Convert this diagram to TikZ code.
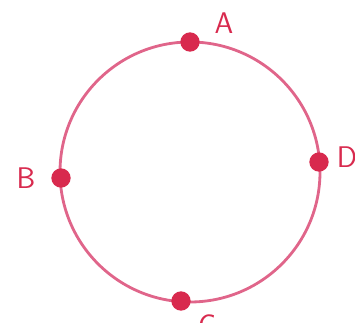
\documentclass[tikz,border=0pt]{standalone}
\usepackage{tikz}

\definecolor{ringpink}{HTML}{E0658A}
\definecolor{dotred}{HTML}{D82A4E}

\begin{document}
\begin{tikzpicture}[x=0.02cm,y=-0.02cm,
  pt/.style={circle,fill=dotred,inner sep=0pt,minimum size=11},
  lbl/.style={text=dotred,font=\sffamily\fontsize{17}{17}\selectfont}]
\useasboundingbox (0,0) rectangle (355,323);
\draw[ringpink,line width=1.6pt] (190,172) circle (130);
\node[pt] (A) at (190,42) {};
\node[pt] (B) at (61,178) {};
\node[pt] (D) at (319,162) {};
\node[pt] (C) at (181,301) {};
\node[lbl] (la) at (224,23) {A};
\node[lbl] (lb) at (26,178) {B};
\node[lbl] (ld) at (347,157) {D};
\node[lbl] (lc) at (207,325) {C};
\end{tikzpicture}
\end{document}
